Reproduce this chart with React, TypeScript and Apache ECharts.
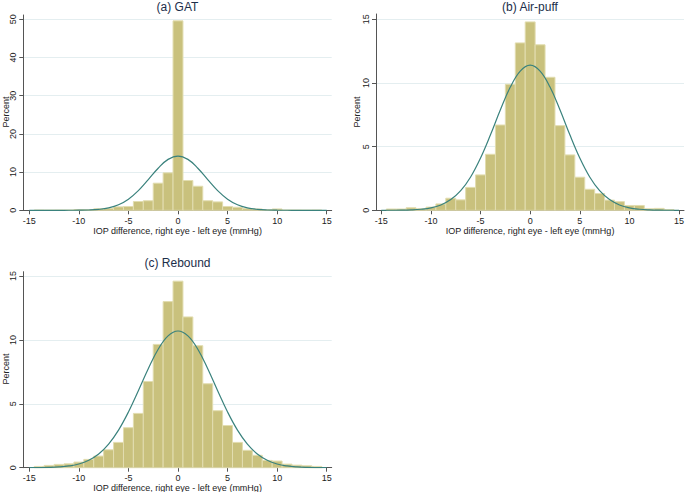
import React, { useEffect, useRef } from "react";
import * as echarts from "echarts";

// ---------- data ----------
const binCenters = [-14, -13, -12, -11, -10, -9, -8, -7, -6, -5, -4, -3, -2, -1, 0, 1, 2, 3, 4, 5, 6, 7, 8, 9, 10, 11, 12, 13, 14];

const gatPercent = [0.05, 0.03, 0.05, 0.05, 0.2, 0.15, 0.4, 0.5, 0.9, 1.0, 2.3, 2.5, 7.1, 9.8, 49.6, 7.8, 6.3, 2.5, 2.2, 1.0, 0.8, 0.45, 0.35, 0.15, 0.35, 0.05, 0.05, 0.03, 0.05];
const airPercent = [0.1, 0.1, 0.2, 0.12, 0.25, 0.5, 0.95, 0.82, 1.8, 2.78, 4.4, 6.7, 9.9, 13.15, 14.8, 13.0, 10.45, 6.65, 4.35, 2.6, 1.65, 1.32, 0.8, 0.68, 0.38, 0.38, 0.12, 0.15, 0.05];
const reboundPercent = [0.1, 0.18, 0.26, 0.3, 0.44, 0.65, 0.91, 1.4, 1.98, 3.13, 4.25, 6.75, 9.65, 13.0, 14.6, 11.8, 9.55, 6.57, 4.46, 3.3, 1.98, 1.36, 0.97, 0.57, 0.52, 0.28, 0.2, 0.15, 0.1];

const curveX = [-15, -14, -13, -12, -11, -10, -9, -8, -7, -6, -5, -4, -3, -2, -1, 0, 1, 2, 3, 4, 5, 6, 7, 8, 9, 10, 11, 12, 13, 14, 15];
const gatCurve = [0, 0, 0, 0.0015, 0.007, 0.025, 0.084, 0.25, 0.64, 1.45, 2.92, 5.16, 8.03, 11.02, 13.33, 14.2, 13.33, 11.02, 8.03, 5.16, 2.92, 1.45, 0.64, 0.25, 0.084, 0.025, 0.007, 0.0015, 0, 0, 0];
const airCurve = [0.001, 0.004, 0.011, 0.032, 0.082, 0.19, 0.42, 0.84, 1.54, 2.62, 4.11, 5.93, 7.9, 9.68, 10.94, 11.4, 10.94, 9.68, 7.9, 5.93, 4.11, 2.62, 1.54, 0.84, 0.42, 0.19, 0.082, 0.032, 0.011, 0.004, 0.001];
const reboundCurve = [0.003, 0.009, 0.025, 0.061, 0.138, 0.29, 0.58, 1.07, 1.84, 2.94, 4.36, 6.02, 7.74, 9.27, 10.32, 10.7, 10.32, 9.27, 7.74, 6.02, 4.36, 2.94, 1.84, 1.07, 0.58, 0.29, 0.138, 0.061, 0.025, 0.009, 0.003];

const xTicks = [-15, -10, -5, 0, 5, 10, 15];
const gatYTicks = [0, 10, 20, 30, 40, 50];
const pctYTicks = [0, 5, 10, 15];

const titles = ["(a) GAT", "(b) Air-puff", "(c) Rebound"];
const xTitle = "IOP difference, right eye - left eye (mmHg)";
const yTitle = "Percent";

// ---------- styles ----------
const FONT = "'Liberation Sans', Arial, sans-serif";
const BAR_FILL = "#c9c17d";
const BAR_EDGE = "#e2ddb0";
const CURVE = "#3a827d";
const AXIS = "#555555";
const GRID = "#e4eef0";
const TEXT = "#222222";
const TITLE = "#1c2e4a";

const panels = [
  { grid: { left: 23.3, right: 353.3, top: 15, bottom: 281.7 }, xMin: -15.605, xMax: 15.504, yMax: 51.13, yTicks: gatYTicks, bars: gatPercent, curve: gatCurve, title: titles[0], tx: 177.5, ty: 7, px: 5.5, py: 112 },
  { grid: { left: 376, right: 1, top: 14, bottom: 281.7 }, xMin: -15.534, xMax: 15.5, yMax: 15.42, yTicks: pctYTicks, bars: airPercent, curve: airCurve, title: titles[1], tx: 530, ty: 7, px: 357, py: 112 },
  { grid: { left: 23.3, right: 353.3, top: 271.7, bottom: 24.3 }, xMin: -15.605, xMax: 15.504, yMax: 15.34, yTicks: pctYTicks, bars: reboundPercent, curve: reboundCurve, title: titles[2], tx: 177.5, ty: 262.7, px: 5.5, py: 369 },
];

export default function App() {
  const ref = useRef<HTMLDivElement>(null);
  useEffect(() => {
    if (!ref.current) return;
    const chart = echarts.init(ref.current, undefined, { renderer: "svg" });

    const grids: any[] = [];
    const xAxes: any[] = [];
    const yAxes: any[] = [];
    const series: any[] = [];
    const graphics: any[] = [];

    panels.forEach((p, i) => {
      grids.push({ ...p.grid, containLabel: false, outerBoundsMode: "none" });
      xAxes.push({
        type: "value",
        gridIndex: i,
        position: "bottom",
        min: p.xMin,
        max: p.xMax,
        name: xTitle,
        nameLocation: "middle",
        nameGap: 15,
        nameTextStyle: { fontSize: 9, color: TEXT, fontFamily: FONT },
        axisLine: { show: true, onZero: false, lineStyle: { color: AXIS, width: 1 } },
        axisTick: { show: true, length: 4, customValues: xTicks, lineStyle: { color: AXIS } },
        axisLabel: { show: true, customValues: xTicks, fontSize: 9, color: TEXT, fontFamily: FONT, margin: 6 },
        splitLine: { show: false },
      });
      yAxes.push({
        type: "value",
        gridIndex: i,
        position: "left",
        min: 0,
        max: p.yMax,
        axisLine: { show: true, onZero: false, lineStyle: { color: AXIS, width: 1 } },
        axisTick: { show: true, length: 4, customValues: p.yTicks, lineStyle: { color: AXIS } },
        axisLabel: { show: true, customValues: p.yTicks, rotate: 90, fontSize: 9, color: TEXT, fontFamily: FONT, margin: 6 },
        splitLine: { show: true, lineStyle: { color: GRID, width: 1 } },
      });
      series.push({
        type: "custom",
        xAxisIndex: i,
        yAxisIndex: i,
        data: binCenters.map((c, k) => [c, p.bars[k]]),
        renderItem: (params: any, api: any) => {
          const x = api.value(0);
          const y = api.value(1);
          const p0 = api.coord([x - 0.5, y]);
          const p1 = api.coord([x + 0.5, 0]);
          return {
            type: "rect",
            shape: { x: p0[0], y: p0[1], width: p1[0] - p0[0], height: p1[1] - p0[1] },
            style: { fill: BAR_FILL, stroke: BAR_EDGE, lineWidth: 1 },
          };
        },
        z: 2,
      });
      series.push({
        type: "line",
        xAxisIndex: i,
        yAxisIndex: i,
        data: curveX.map((x, k) => [x, p.curve[k]]),
        showSymbol: false,
        smooth: 0.4,
        lineStyle: { color: CURVE, width: 1.2 },
        z: 3,
      });
      graphics.push({
        type: "text",
        x: p.tx,
        y: p.ty,
        style: { text: p.title, fontSize: 12, fill: TITLE, fontFamily: FONT, align: "center", verticalAlign: "middle" },
      });
      graphics.push({
        type: "text",
        x: p.px,
        y: p.py,
        rotation: Math.PI / 2,
        style: { text: yTitle, fontSize: 9, fill: TEXT, fontFamily: FONT, align: "center", verticalAlign: "middle" },
      });
    });

    chart.setOption({
      animation: false,
      backgroundColor: "#ffffff",
      grid: grids,
      xAxis: xAxes,
      yAxis: yAxes,
      series,
      graphic: graphics,
    });
    return () => chart.dispose();
  }, []);

  return <div ref={ref} style={{ position: "absolute", left: 0, top: 0, width: 685, height: 492, background: "#fff" }} />;
}
